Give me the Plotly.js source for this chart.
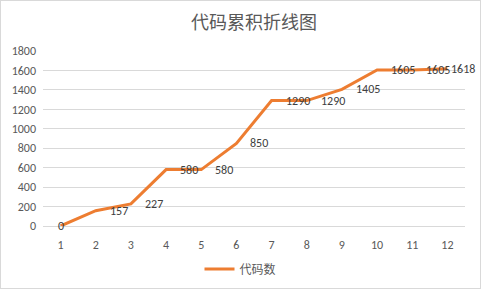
<!DOCTYPE html>
<html>
<head>
<meta charset="utf-8">
<script src="https://cdn.plot.ly/plotly-3.0.1.min.js"></script>
<style>
html,body{margin:0;padding:0;background:#fff;}
#wrap{position:relative;width:481px;height:289px;}
#chart{width:481px;height:289px;}
#frame{position:absolute;left:0;top:0;width:479px;height:287px;border:1px solid #d9d9d9;pointer-events:none;}
</style>
</head>
<body>
<div id="wrap"><div id="chart"></div><div id="frame"></div></div>
<script>
const categories = [1,2,3,4,5,6,7,8,9,10,11,12];
const codeCounts = [0,157,227,580,580,850,1290,1290,1405,1605,1605,1618];
const seriesName = '代码数';
const chartTitle = '代码累积折线图';
const yTicks = [0,200,400,600,800,1000,1200,1400,1600,1800];

const fontFam = 'Calibri, Carlito, "Liberation Sans", "Noto Sans CJK SC", sans-serif';
const cjkFam = '"Noto Sans CJK SC", "Microsoft YaHei", sans-serif';

const trace = {
  x: categories,
  y: codeCounts,
  type: 'scatter',
  mode: 'lines',
  name: seriesName,
  line: {color: '#ED7D31', width: 3},
  hoverinfo: 'skip'
};

const annotations = codeCounts.map((v, i) => {
  const first = i === 0;
  const last = i === codeCounts.length - 1;
  return {
    x: categories[i], y: v, xref: 'x', yref: 'y',
    text: String(v), showarrow: false,
    xanchor: first ? 'center' : 'left',
    yanchor: 'middle',
    xshift: first ? 0 : (last ? 2 : 12),
    font: {family: fontFam, size: 12, color: '#404040'}
  };
});

const layout = {
  width: 481, height: 289,
  margin: {l: 43, r: 16, t: 51, b: 62.5, pad: 0, autoexpand: false},
  paper_bgcolor: '#ffffff',
  plot_bgcolor: '#ffffff',
  title: {
    text: chartTitle,
    font: {family: cjkFam, size: 18, color: '#595959'},
    x: 0.5, xanchor: 'center', xref: 'paper',
    y: 1 - 23/289, yanchor: 'middle', yref: 'container'
  },
  xaxis: {
    type: 'linear',
    range: [0.5, 12.5],
    tickmode: 'array',
    tickvals: categories,
    ticktext: categories.map(String),
    showgrid: false,
    zeroline: false,
    showline: true,
    linecolor: '#d9d9d9',
    linewidth: 1,
    ticks: '',
    ticklabelstandoff: 8,
    tickfont: {family: fontFam, size: 12, color: '#595959'},
    fixedrange: true
  },
  yaxis: {
    range: [0, 1800],
    tickmode: 'array',
    tickvals: yTicks,
    ticktext: yTicks.map(String),
    showgrid: true,
    gridcolor: '#d9d9d9',
    gridwidth: 1,
    zeroline: false,
    showline: false,
    ticks: '',
    ticklabelstandoff: 6,
    tickfont: {family: fontFam, size: 12, color: '#595959'},
    fixedrange: true
  },
  showlegend: true,
  legend: {
    orientation: 'h',
    x: 0.5, xanchor: 'center', xref: 'container',
    y: 1 - 269/289, yanchor: 'middle', yref: 'container',
    font: {family: cjkFam, size: 12, color: '#595959'},
    bgcolor: 'rgba(0,0,0,0)'
  },
  annotations: annotations
};

Plotly.newPlot('chart', [trace], layout, {displayModeBar: false, staticPlot: true});
</script>
</body>
</html>
